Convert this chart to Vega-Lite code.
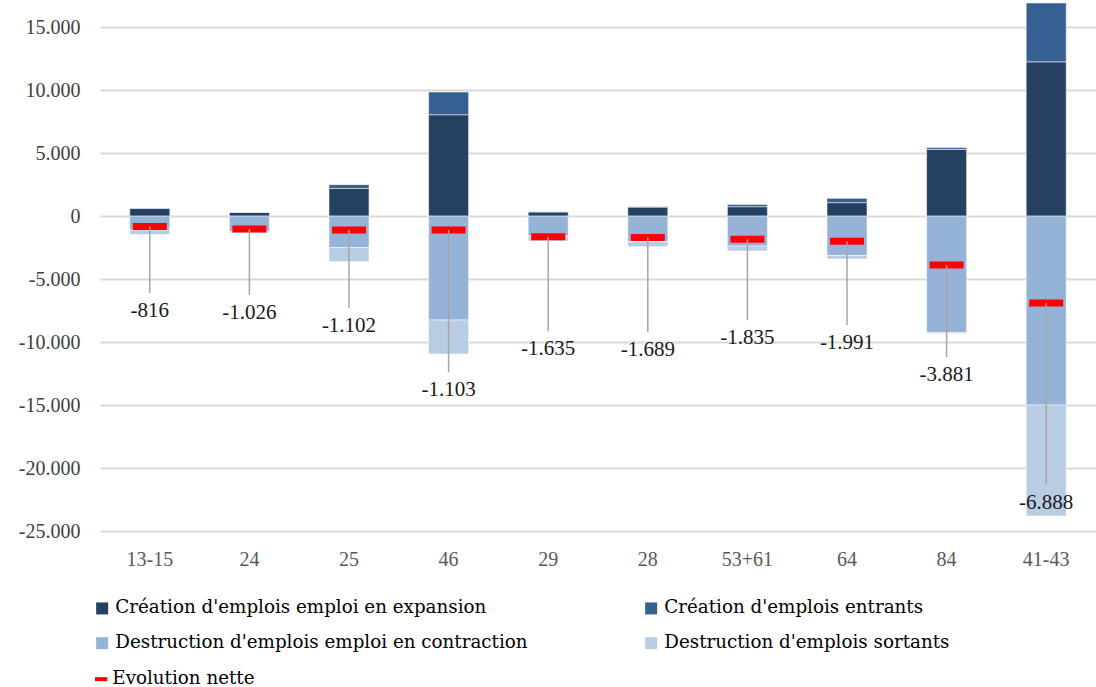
{
  "$schema": "https://vega.github.io/schema/vega-lite/v6.json",
  "width": 996,
  "height": 529,
  "autosize": {"type": "none"},
  "padding": {"left": 100, "top": 2, "right": 0, "bottom": 156},
  "background": "white",
  "config": {
    "locale": {"number": {"decimal": ",", "thousands": ".", "grouping": [3], "currency": ["", " €"], "minus": "-"}},
    "font": "Liberation Serif",
    "view": {"stroke": null}
  },
  "datasets": {
    "bars": [
      {"cat": "13-15", "serie": "Création d'emplois emploi en expansion", "k": 1, "value": 600},
      {"cat": "13-15", "serie": "Création d'emplois entrants", "k": 2, "value": 50},
      {"cat": "13-15", "serie": "Destruction d'emplois emploi en contraction", "k": 1, "value": -1100},
      {"cat": "13-15", "serie": "Destruction d'emplois sortants", "k": 2, "value": -366},
      {"cat": "24", "serie": "Création d'emplois emploi en expansion", "k": 1, "value": 290},
      {"cat": "24", "serie": "Création d'emplois entrants", "k": 2, "value": 20},
      {"cat": "24", "serie": "Destruction d'emplois emploi en contraction", "k": 1, "value": -1250},
      {"cat": "24", "serie": "Destruction d'emplois sortants", "k": 2, "value": -86},
      {"cat": "25", "serie": "Création d'emplois emploi en expansion", "k": 1, "value": 2200},
      {"cat": "25", "serie": "Création d'emplois entrants", "k": 2, "value": 300},
      {"cat": "25", "serie": "Destruction d'emplois emploi en contraction", "k": 1, "value": -2500},
      {"cat": "25", "serie": "Destruction d'emplois sortants", "k": 2, "value": -1102},
      {"cat": "46", "serie": "Création d'emplois emploi en expansion", "k": 1, "value": 8050},
      {"cat": "46", "serie": "Création d'emplois entrants", "k": 2, "value": 1800},
      {"cat": "46", "serie": "Destruction d'emplois emploi en contraction", "k": 1, "value": -8250},
      {"cat": "46", "serie": "Destruction d'emplois sortants", "k": 2, "value": -2703},
      {"cat": "29", "serie": "Création d'emplois emploi en expansion", "k": 1, "value": 330},
      {"cat": "29", "serie": "Création d'emplois entrants", "k": 2, "value": 20},
      {"cat": "29", "serie": "Destruction d'emplois emploi en contraction", "k": 1, "value": -1590},
      {"cat": "29", "serie": "Destruction d'emplois sortants", "k": 2, "value": -395},
      {"cat": "28", "serie": "Création d'emplois emploi en expansion", "k": 1, "value": 720},
      {"cat": "28", "serie": "Création d'emplois entrants", "k": 2, "value": 20},
      {"cat": "28", "serie": "Destruction d'emplois emploi en contraction", "k": 1, "value": -2030},
      {"cat": "28", "serie": "Destruction d'emplois sortants", "k": 2, "value": -399},
      {"cat": "53+61", "serie": "Création d'emplois emploi en expansion", "k": 1, "value": 750},
      {"cat": "53+61", "serie": "Création d'emplois entrants", "k": 2, "value": 180},
      {"cat": "53+61", "serie": "Destruction d'emplois emploi en contraction", "k": 1, "value": -2380},
      {"cat": "53+61", "serie": "Destruction d'emplois sortants", "k": 2, "value": -385},
      {"cat": "64", "serie": "Création d'emplois emploi en expansion", "k": 1, "value": 1070},
      {"cat": "64", "serie": "Création d'emplois entrants", "k": 2, "value": 340},
      {"cat": "64", "serie": "Destruction d'emplois emploi en contraction", "k": 1, "value": -3120},
      {"cat": "64", "serie": "Destruction d'emplois sortants", "k": 2, "value": -281},
      {"cat": "84", "serie": "Création d'emplois emploi en expansion", "k": 1, "value": 5300},
      {"cat": "84", "serie": "Création d'emplois entrants", "k": 2, "value": 140},
      {"cat": "84", "serie": "Destruction d'emplois emploi en contraction", "k": 1, "value": -9250},
      {"cat": "84", "serie": "Destruction d'emplois sortants", "k": 2, "value": -71},
      {"cat": "41-43", "serie": "Création d'emplois emploi en expansion", "k": 1, "value": 12250},
      {"cat": "41-43", "serie": "Création d'emplois entrants", "k": 2, "value": 4670},
      {"cat": "41-43", "serie": "Destruction d'emplois emploi en contraction", "k": 1, "value": -15000},
      {"cat": "41-43", "serie": "Destruction d'emplois sortants", "k": 2, "value": -8808}
    ],
    "net": [
      {"cat": "13-15", "leg": "Evolution nette", "net": -816, "label": "-816", "label_at": -6100},
      {"cat": "24", "leg": "Evolution nette", "net": -1026, "label": "-1.026", "label_at": -6250},
      {"cat": "25", "leg": "Evolution nette", "net": -1102, "label": "-1.102", "label_at": -7300},
      {"cat": "46", "leg": "Evolution nette", "net": -1103, "label": "-1.103", "label_at": -12400},
      {"cat": "29", "leg": "Evolution nette", "net": -1635, "label": "-1.635", "label_at": -9150},
      {"cat": "28", "leg": "Evolution nette", "net": -1689, "label": "-1.689", "label_at": -9200},
      {"cat": "53+61", "leg": "Evolution nette", "net": -1835, "label": "-1.835", "label_at": -8270},
      {"cat": "64", "leg": "Evolution nette", "net": -1991, "label": "-1.991", "label_at": -8650},
      {"cat": "84", "leg": "Evolution nette", "net": -3881, "label": "-3.881", "label_at": -11200},
      {"cat": "41-43", "leg": "Evolution nette", "net": -6888, "label": "-6.888", "label_at": -21350}
    ]
  },
  "encoding": {
    "x": {
      "field": "cat", "type": "nominal",
      "sort": ["13-15", "24", "25", "46", "29", "28", "53+61", "64", "84", "41-43"],
      "scale": {"paddingInner": 0.6, "paddingOuter": 0.3},
      "axis": {"title": null, "labelAngle": 0, "domain": false, "ticks": false, "labelFont": "Liberation Serif", "labelFontSize": 20, "labelColor": "#595959", "labelPadding": 18}
    }
  },
  "layer": [
    {
      "data": {"name": "bars"},
      "mark": {"type": "bar", "width": 40, "stroke": "white", "strokeWidth": 0.5},
      "encoding": {
        "y": {
          "field": "value", "type": "quantitative", "stack": "zero",
          "scale": {"domain": [-25000, 17000], "nice": false, "zero": false},
          "axis": {"title": null, "format": ",d", "values": [-25000, -20000, -15000, -10000, -5000, 0, 5000, 10000, 15000], "domain": false, "ticks": false, "grid": true, "gridColor": "#d9d9d9", "gridWidth": 2, "labelFont": "Liberation Serif", "labelFontSize": 20, "labelColor": "#404040", "labelPadding": 20}
        },
        "order": {"field": "k", "type": "quantitative"},
        "color": {
          "field": "serie", "type": "nominal",
          "scale": {
            "domain": ["Création d'emplois emploi en expansion", "Création d'emplois entrants", "Destruction d'emplois emploi en contraction", "Destruction d'emplois sortants"],
            "range": ["#264061", "#366092", "#95b3d7", "#b8cce4"]
          },
          "legend": {
            "title": null, "orient": "none", "legendX": -7, "legendY": 597, "columns": 2, "direction": "horizontal",
            "symbolType": "square", "symbolSize": 144, "symbolStrokeWidth": 0,
            "labelFont": "DejaVu Serif", "labelFontSize": 18.3, "labelColor": "#000000", "labelOffset": 4, "labelLimit": 600,
            "columnPadding": 114, "rowPadding": 16
          }
        }
      }
    },
    {
      "data": {"name": "net"},
      "mark": {"type": "tick", "thickness": 7, "size": 34, "opacity": 1},
      "encoding": {
        "y": {"field": "net", "type": "quantitative"},
        "color": {
          "field": "leg", "type": "nominal",
          "scale": {"domain": ["Evolution nette"], "range": ["#ff0000"]},
          "legend": {
            "title": null, "orient": "none", "legendX": -8, "legendY": 668,
            "symbolType": "stroke", "symbolSize": 150, "symbolStrokeWidth": 4, "symbolStrokeColor": "#ff0000", "symbolOpacity": 1,
            "labelFont": "DejaVu Serif", "labelFontSize": 18.3, "labelColor": "#000000", "labelOffset": 2
          }
        }
      }
    },
    {
      "data": {"name": "net"},
      "mark": {"type": "rule", "color": "#a6a6a6", "strokeWidth": 1.5},
      "encoding": {
        "y": {"field": "net", "type": "quantitative"},
        "y2": {"field": "label_at"}
      }
    },
    {
      "data": {"name": "net"},
      "mark": {"type": "text", "baseline": "top", "dy": 7, "font": "Liberation Serif", "fontSize": 21, "color": "#1a1a1a"},
      "encoding": {
        "y": {"field": "label_at", "type": "quantitative"},
        "text": {"field": "label"}
      }
    }
  ],
  "resolve": {"scale": {"color": "independent"}}
}
